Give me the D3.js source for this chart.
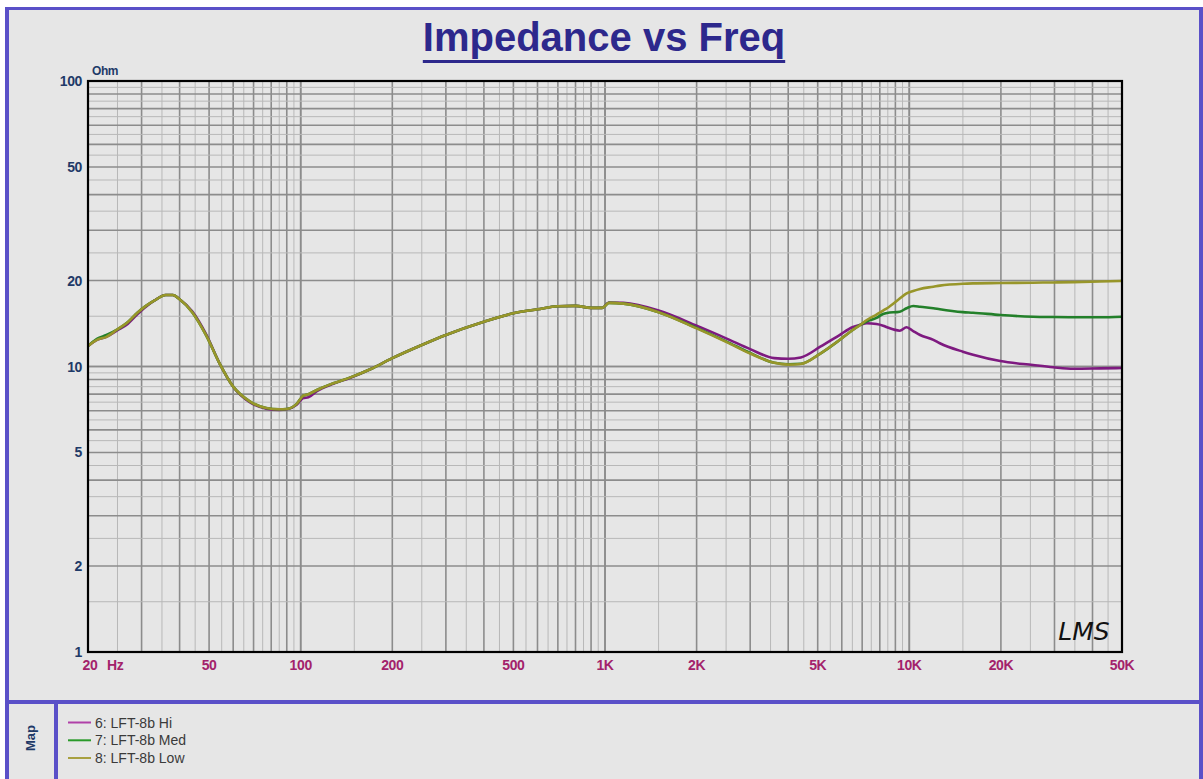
<!DOCTYPE html>
<html lang="en">
<head>
<meta charset="UTF-8">
<title>Impedance vs Freq</title>
<script src="https://d3js.org/d3.v7.min.js"></script>
<style>
  body { margin: 0; background: #ffffff; }
  svg { display: block; font-family: "Liberation Sans", Arial, sans-serif; }
  .ylab { font-weight: bold; font-size: 14px; fill: #1f3a68; letter-spacing: -0.4px; }
  .xlab { font-weight: bold; font-size: 14px; fill: #a3226b; letter-spacing: -0.4px; }
  .leg { font-size: 14px; fill: #3a3a3a; }
</style>
</head>
<body>
<svg width="1203" height="779"></svg>
<script>
// frequencies (Hz) shared by all three traces
const freqs = [20, 21.4, 23, 25, 27, 29, 31, 33, 36, 38, 40, 44, 49, 54, 60, 68, 77, 85, 90, 97,
  102, 106, 113, 128, 145, 170, 200, 250, 300, 400, 500, 600, 700, 800, 900, 980, 1030, 1150,
  1500, 2000, 2500, 3000, 3600, 4000, 4400, 5100, 5900, 6500, 6900, 7250, 7800, 8200, 8450,
  9300, 9800, 10300, 10850, 12000, 12600, 15000, 16200, 19900, 25500, 29700, 34600, 42300, 50000];

// impedance (Ohm)
const zHi = [11.8, 12.4, 12.7, 13.4, 14.1, 15.2, 16.2, 17.0, 17.8, 17.8, 17.2, 15.6, 12.9, 10.3, 8.5,
  7.5, 7.12, 7.05, 7.08, 7.35, 7.75, 7.8, 8.2, 8.7, 9.12, 9.8, 10.7, 11.9, 12.9, 14.35, 15.36,
  15.86, 16.25, 16.3, 16.05, 16.05, 16.75, 16.7,
  15.7, 13.9, 12.55, 11.5, 10.7, 10.65, 10.76, 11.73, 12.89, 13.72, 14.0, 14.17, 14.09, 13.9, 13.72,
  13.35, 13.72, 13.3, 12.89, 12.4, 12.06, 11.27, 11.0, 10.45, 10.12, 9.94, 9.82, 9.85, 9.88];

const zMed = [11.8, 12.5, 12.9, 13.5, 14.3, 15.4, 16.3, 17.0, 17.8, 17.8, 17.2, 15.5, 12.8, 10.3, 8.5,
  7.55, 7.15, 7.08, 7.1, 7.4, 7.9, 8.0, 8.27, 8.73, 9.14, 9.8, 10.7, 11.9, 12.9, 14.35, 15.36,
  15.86, 16.25, 16.3, 16.05, 16.05, 16.7, 16.6,
  15.5, 13.65, 12.25, 11.15, 10.3, 10.18, 10.22, 11.1, 12.38, 13.4, 13.98, 14.4, 14.8, 15.27, 15.4,
  15.56, 16.0, 16.29, 16.2, 16.0, 15.86, 15.5, 15.43, 15.15, 14.94, 14.9, 14.88, 14.87, 14.94];

const zLow = [11.8, 12.4, 12.7, 13.5, 14.3, 15.4, 16.3, 17.0, 17.8, 17.8, 17.2, 15.5, 12.8, 10.3, 8.5,
  7.55, 7.15, 7.08, 7.1, 7.4, 7.9, 8.0, 8.27, 8.73, 9.14, 9.8, 10.7, 11.9, 12.9, 14.35, 15.36,
  15.86, 16.25, 16.3, 16.05, 16.05, 16.7, 16.6,
  15.5, 13.6, 12.2, 11.1, 10.3, 10.15, 10.2, 11.1, 12.38, 13.4, 13.98, 14.55, 15.2, 15.7, 16.0,
  17.3, 18.05, 18.4, 18.7, 19.03, 19.2, 19.5, 19.55, 19.6, 19.66, 19.7, 19.75, 19.85, 19.95];

const seriesNames = ["6: LFT-8b Hi", "7: LFT-8b Med", "8: LFT-8b Low"];
const seriesColors = ["#7e1a80", "#23802a", "#98962a"];
const legendColors = ["#b040a8", "#2a9a2a", "#a8a040"];

const xTicks = [20, 50, 100, 200, 500, 1000, 2000, 5000, 10000, 20000, 50000];
const xTickLabels = ["20", "50", "100", "200", "500", "1K", "2K", "5K", "10K", "20K", "50K"];
const yTicks = [1, 2, 5, 10, 20, 50, 100];

const svg = d3.select("svg");
const W = 1203, H = 779;
const purple = "#5a50c8";
const L = 88, R = 1122, T = 81, B = 652;

// panel background + frame
svg.append("rect").attr("x", 5).attr("y", 7).attr("width", W - 5).attr("height", H - 7).attr("fill", "#e6e6e6");
svg.append("rect").attr("x", 5).attr("y", 7).attr("width", W - 5).attr("height", 3).attr("fill", purple);
svg.append("rect").attr("x", 5).attr("y", 7).attr("width", 4).attr("height", H - 7).attr("fill", purple);
svg.append("rect").attr("x", W - 4).attr("y", 7).attr("width", 4).attr("height", H - 7).attr("fill", purple);
svg.append("rect").attr("x", 5).attr("y", 700).attr("width", W - 5).attr("height", 4).attr("fill", purple);
svg.append("rect").attr("x", 54).attr("y", 700).attr("width", 4).attr("height", H - 700).attr("fill", purple);

const x = d3.scaleLog().domain([20, 50000]).range([L, R]);
const y = d3.scaleLog().domain([1, 100]).range([B, T]);

// grid
const xGrid = [], yGrid = [];
[10, 100, 1000, 10000].forEach(d => {
  for (let k = 1; k <= 10; k += 0.5) {
    const v = k * d;
    if (v > 20 && v < 50000) xGrid.push({ v, major: Number.isInteger(k) });
  }
});
[1, 10].forEach(d => {
  for (let k = 1; k <= 10; k += 0.5) {
    const v = k * d;
    if (v > 1 && v < 100) yGrid.push({ v, major: Number.isInteger(k) });
  }
});
const grid = svg.append("g");
const sorted = a => a.slice().sort((p, q) => p.major - q.major);
grid.selectAll(".gx").data(sorted(xGrid)).join("line")
  .attr("x1", d => x(d.v)).attr("x2", d => x(d.v)).attr("y1", T).attr("y2", B)
  .attr("stroke", d => d.major ? "#8c8c8c" : "#b8b8b8")
  .attr("stroke-width", d => d.major ? 1.6 : 1);
grid.selectAll(".gy").data(sorted(yGrid)).join("line")
  .attr("y1", d => y(d.v)).attr("y2", d => y(d.v)).attr("x1", L).attr("x2", R)
  .attr("stroke", d => d.major ? "#8c8c8c" : "#b8b8b8")
  .attr("stroke-width", d => d.major ? 1.6 : 1);

// traces
const line = d3.line().x(d => x(d[0])).y(d => y(d[1])).curve(d3.curveMonotoneX);
[zHi, zMed, zLow].forEach((zs, i) => {
  svg.append("path")
    .datum(freqs.map((f, j) => [f, zs[j]]))
    .attr("fill", "none")
    .attr("stroke", seriesColors[i])
    .attr("stroke-width", 2.6)
    .attr("stroke-linejoin", "round")
    .attr("d", line);
});

// plot border
svg.append("rect").attr("x", L).attr("y", T).attr("width", R - L).attr("height", B - T)
  .attr("fill", "none").attr("stroke", "#000").attr("stroke-width", 2.2);

// axes labels
svg.selectAll(".ylab").data(yTicks).join("text")
  .attr("class", "ylab").attr("x", 82).attr("y", d => y(d))
  .attr("text-anchor", "end").attr("dominant-baseline", "central")
  .text(d => d);
svg.append("text").attr("class", "ylab").attr("x", 92).attr("y", 75).style("font-size", "12px").text("Ohm");

svg.selectAll(".xlab").data(xTicks).join("text")
  .attr("class", "xlab").attr("x", (d, i) => i === 0 ? x(d) + 2 : x(d)).attr("y", 665)
  .attr("text-anchor", "middle").attr("dominant-baseline", "central")
  .text((d, i) => xTickLabels[i]);
svg.append("text").attr("class", "xlab").attr("x", 107).attr("y", 665)
  .attr("dominant-baseline", "central").text("Hz");

// title
const title = svg.append("text").attr("x", 604).attr("y", 51).attr("text-anchor", "middle")
  .style("font-size", "40px").style("font-weight", "bold").attr("fill", "#2d288c")
  .text("Impedance vs Freq");
const tw = title.node().getComputedTextLength();
svg.append("rect").attr("x", 604 - tw / 2).attr("y", 60).attr("width", tw).attr("height", 3).attr("fill", "#2d288c");

// LMS mark
svg.append("text").attr("x", 1084).attr("y", 640).attr("text-anchor", "middle")
  .style("font-size", "25px").style("font-style", "italic").style("font-family", "'DejaVu Sans', sans-serif")
  .style("font-weight", "300").attr("fill", "#111").text("LMS");

// map / legend
svg.append("text").attr("transform", "translate(30,738) rotate(-90)")
  .attr("text-anchor", "middle").attr("dominant-baseline", "central")
  .style("font-weight", "bold").style("font-size", "13px").attr("fill", "#1f3a68").text("Map");
const legY = [722.5, 740.3, 758];
seriesNames.forEach((n, i) => {
  svg.append("line").attr("x1", 68).attr("x2", 91).attr("y1", legY[i]).attr("y2", legY[i])
    .attr("stroke", legendColors[i]).attr("stroke-width", 2);
  svg.append("text").attr("class", "leg").attr("x", 95).attr("y", legY[i])
    .attr("dominant-baseline", "central").text(n);
});
</script>
</body>
</html>
